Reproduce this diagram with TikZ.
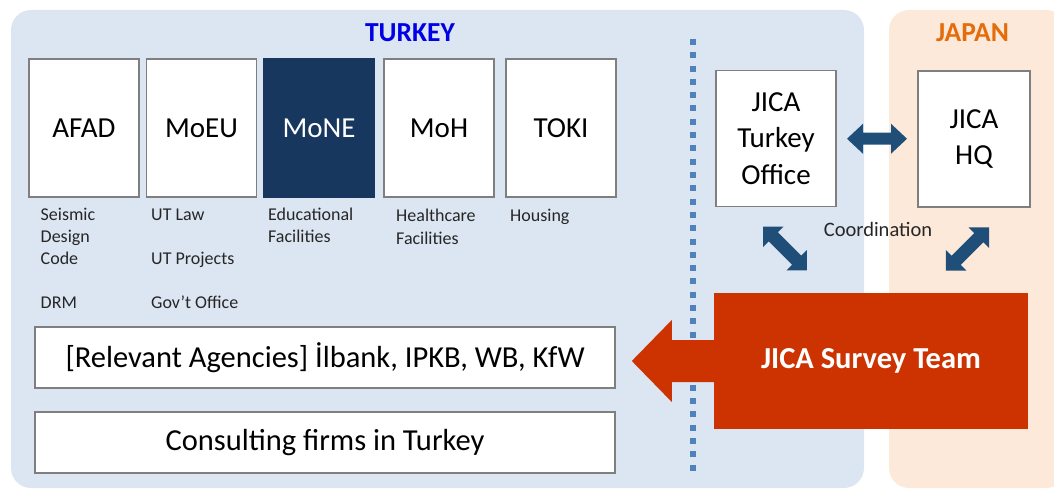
\documentclass[tikz,border=0pt]{standalone}
\usepackage{fontspec}
\setmainfont{Carlito}
\usetikzlibrary{calc}
\definecolor{turkeybg}{RGB}{220,230,242}
\definecolor{japanbg}{RGB}{253,233,217}
\definecolor{navy}{RGB}{23,55,94}
\definecolor{arrowblue}{RGB}{31,78,121}
\definecolor{teamred}{RGB}{204,51,0}
\definecolor{dotblue}{RGB}{79,129,189}
\definecolor{japanorange}{RGB}{228,108,10}
\definecolor{turkeyblue}{RGB}{0,0,230}
\definecolor{boxgray}{RGB}{127,127,127}

% double-headed block arrow centred at the origin, along the local x axis
% #1 half length, #2 head length, #3 head half width, #4 shaft half width
\newcommand\dblblock[4]{%
  \fill[arrowblue] (-#1,0) -- (-#1+#2,#3) -- (-#1+#2,#4) -- (#1-#2,#4) -- (#1-#2,#3)
    -- (#1,0) -- (#1-#2,-#3) -- (#1-#2,-#4) -- (-#1+#2,-#4) -- (-#1+#2,-#3) -- cycle;}

\begin{document}
\begin{tikzpicture}[x=1pt,y=-1pt,
  panel/.style={rounded corners=20pt},
  orgbox/.style={draw=boxgray, line width=1.2pt, fill=white, minimum width=110pt,
    minimum height=138pt, inner sep=0pt, font=\fontsize{29}{34}\selectfont},
  note/.style={anchor=base west, inner sep=0pt, font=\fontsize{18}{22}\selectfont, text=black!85},
  widebox/.style={draw=boxgray, line width=1.2pt, fill=white, minimum width=580pt,
    minimum height=61pt, inner sep=0pt, font=\fontsize{30.5}{36}\selectfont},
  jicabox/.style={draw=boxgray, line width=1.2pt, fill=white, minimum height=136pt,
    inner sep=0pt, align=center, font=\fontsize{29}{36.5}\selectfont},
  region/.style={inner sep=0pt, font=\fontsize{27.5}{33}\selectfont\bfseries},
]
\useasboundingbox (0,0) rectangle (1054,489);

% country panels
\fill[turkeybg, panel] (11,10) rectangle (864,488);
\fill[japanbg, panel] (889,10) rectangle (1066,488);
\node[region, text=turkeyblue] (turkey) at (410,33) {TURKEY};
\node[region, text=japanorange] (japan) at (972.5,33) {JAPAN};

% ministries
\node[orgbox] (afad) at (84,128) {AFAD};
\node[orgbox] (moeu) at (201.5,128) {MoEU};
\node[orgbox, fill=navy, draw=navy, text=white] (mone) at (319,128) {MoNE};
\node[orgbox] (moh) at (439,128) {MoH};
\node[orgbox] (toki) at (561,128) {TOKI};

% responsibilities
\node[note] (n1) at (40.5,220) {Seismic};
\node[note] (n2) at (40.5,242) {Design};
\node[note] (n3) at (40.5,264) {Code};
\node[note] (n4) at (40.5,308) {DRM};
\node[note] (n5) at (151,220) {UT Law};
\node[note] (n6) at (151,264) {UT Projects};
\node[note] (n7) at (151,308) {Gov’t Office};
\node[note] (n8) at (268,220) {Educational};
\node[note] (n9) at (268,242) {Facilities};
\node[note] (n10) at (396,222) {Healthcare};
\node[note] (n11) at (396,244) {Facilities};
\node[note] (n12) at (510,222) {Housing};

% agencies and consultants
\node[widebox] (agencies) at (325,357.5) {[Relevant Agencies] İlbank, IPKB, WB, KfW};
\node[widebox] (consult) at (325,442.5) {Consulting firms in Turkey};

% border line
\draw[dotblue, line width=6pt, dash pattern=on 6pt off 7.3pt] (693,39) -- (693,472);

% JICA side
\node[jicabox, minimum width=120pt] (office) at (776,138.5) {JICA\\Turkey\\Office};
\node[jicabox, minimum width=112pt] (hq) at (974,139) {JICA\\HQ};
\node[inner sep=0pt, font=\fontsize{20.5}{24}\selectfont, text=black!85] (coord) at (878,229) {Coordination};

\node[fill=teamred, minimum width=314pt, minimum height=136pt, inner sep=0pt,
  text=white, font=\fontsize{30.5}{36}\selectfont\bfseries] (survey) at (871,361) {JICA Survey Team};
\fill[teamred] ([xshift=1pt]survey.west) ++(0,-21) -- ++(-43,0) -- ++(0,-20) -- ++(-40,41)
  -- ++(40,41) -- ++(0,-20) -- ++(43,0) -- cycle;

% coordination arrows
\begin{scope}[shift={($(office.east)!0.5!(hq.west)$)}]
  \dblblock{30}{16}{15}{6}
\end{scope}
\begin{scope}[shift={(785,248.5)}, rotate=-45]
  \dblblock{31}{14.5}{14.5}{6.5}
\end{scope}
\begin{scope}[shift={(967.5,249)}, rotate=45]
  \dblblock{30.5}{14.5}{14.5}{6.5}
\end{scope}
\end{tikzpicture}
\end{document}
